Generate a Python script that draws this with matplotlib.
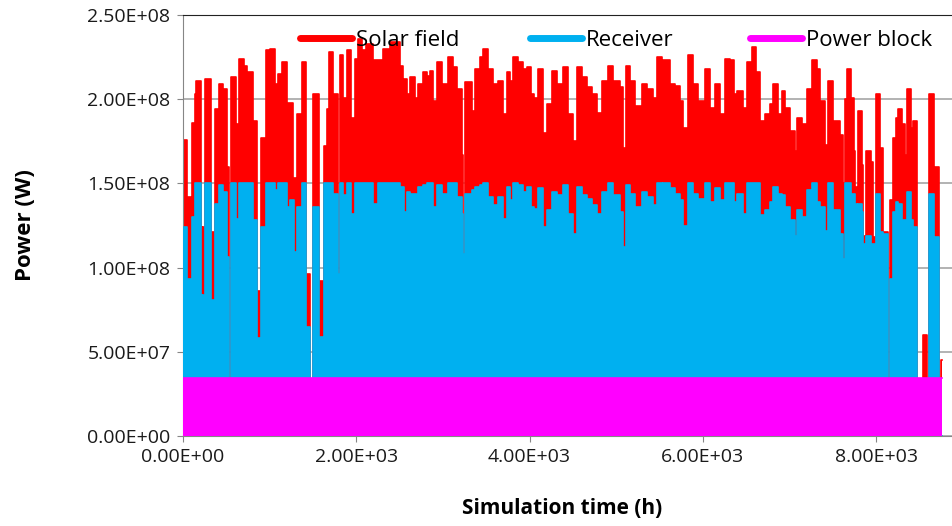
import numpy as np
import matplotlib
matplotlib.use("Agg")
import matplotlib.pyplot as plt
from matplotlib.lines import Line2D
from matplotlib.ticker import FuncFormatter

plt.rcParams["font.family"] = ["Open Sans", "DejaVu Sans"]

# step data: hour where a level starts, power in 1e7 W
hours = [
    0, 50, 88, 100, 135, 150, 204, 219, 231, 258, 327, 369, 416, 466, 512, 535,
    554, 608, 627, 650, 704, 735, 804, 858, 885, 900, 958, 1004, 1062, 1100,
    1139, 1197,
    1235, 1266, 1281, 1304, 1316, 1377, 1419, 1466, 1504, 1566, 1612, 1627,
    1658, 1685, 1735, 1793, 1808, 1850, 1889, 1935, 1985, 2023, 2062, 2112,
    2197, 2254, 2312, 2389,
    2504, 2535, 2550, 2581, 2619, 2677, 2716, 2773, 2812, 2850, 2889, 2927,
    2985, 3000, 3062, 3120, 3158, 3216, 3236, 3250, 3331, 3370, 3427, 3466,
    3523, 3581, 3639, 3697, 3735,
    3774, 3812, 3870, 3927, 3966, 4012, 4050, 4101, 4158, 4197, 4255, 4312,
    4381, 4447, 4504, 4543, 4601, 4658, 4716, 4774, 4832, 4908, 4966,
    5043, 5081, 5112, 5158, 5216, 5293, 5351, 5428, 5474, 5524, 5543, 5620,
    5678, 5735, 5774, 5832, 5889, 5947, 6024, 6082, 6139, 6197, 6255,
    6312, 6359, 6397, 6466, 6505, 6562, 6612, 6659, 6716, 6774, 6813, 6870,
    6909, 6947, 7005, 7063, 7082, 7140, 7197, 7255, 7313, 7351, 7409, 7447,
    7505,
    7582, 7613, 7643, 7660, 7705, 7740, 7755, 7774, 7785, 7832, 7851, 7878,
    7888, 7936, 7966, 7997, 8043, 8074, 8140, 8159, 8197, 8230, 8255, 8293,
    8332, 8351, 8397, 8428, 8474, 8544, 8590, 8613, 8667, 8680, 8728, 8744,
]
solar_field = [
    17.6, 14.2, 0, 18.6, 20.3, 21.1, 12.4, 5.5, 12.4, 21.2, 12.1, 19.4, 20.9,
    20.6, 16.0, 0, 21.3, 0, 18.5, 22.4, 22.0, 21.6, 18.7, 8.6, 0, 17.7, 22.9,
    23.0, 20.9, 21.5, 22.2, 19.8,
    19.8, 15.3, 15.3, 4.8, 19.1, 22.2, 9.6, 0, 20.3, 9.2, 0, 17.2, 19.4, 22.8,
    20.3, 9.6, 22.6, 20.1, 22.9, 18.9, 22.4, 23.6, 22.9, 23.3, 22.3, 22.3,
    23.0, 23.4,
    22.0, 18.5, 21.2, 20.3, 21.3, 20.1, 20.9, 21.6, 21.4, 21.7, 19.9, 22.2,
    10.7, 20.9, 22.5, 21.9, 20.6, 16.7, 10.8, 21.0, 19.3, 21.8, 22.5, 23.0,
    21.8, 20.9, 21.1, 19.1, 21.6,
    21.1, 22.5, 22.2, 21.8, 21.9, 20.3, 20.1, 21.8, 18.0, 19.7, 21.7, 20.9,
    21.9, 19.1, 17.5, 21.9, 21.3, 20.7, 20.3, 19.2, 21.1, 22.0, 21.1,
    20.7, 17.1, 22.0, 21.1, 19.6, 20.9, 20.6, 20.1, 22.5, 20.1, 22.3, 20.9,
    20.8, 19.9, 18.3, 22.6, 20.9, 19.9, 21.8, 19.5, 20.9, 19.1, 22.4,
    22.3, 20.3, 20.5, 19.5, 22.2, 23.1, 21.6, 18.7, 19.1, 19.7, 20.9, 19.1,
    20.5, 19.5, 18.1, 16.9, 18.9, 18.5, 20.6, 22.3, 21.8, 19.9, 17.3, 21.1,
    18.7,
    17.9, 15.0, 20.0, 21.8, 20.1, 16.9, 14.8, 0, 19.3, 16.1, 11.9, 5.0,
    16.9, 16.3, 11.8, 20.3, 17.1, 12.1, 0, 14.0, 17.7, 18.9, 19.4, 18.5,
    16.7, 20.6, 18.3, 18.7, 0, 6.0, 0, 20.3, 0, 16.0, 0, 4.5,
]
receiver = [
    12.4, 9.3, 0, 13.0, 15.0, 15.0, 8.4, 5.5, 8.4, 15.0, 8.1, 13.8, 14.9,
    14.5, 10.6, 0, 15.0, 0, 12.9, 15.0, 15.0, 15.0, 12.8, 5.8, 0, 12.4, 15.0,
    15.0, 14.6, 15.0, 15.0, 13.6,
    14.0, 14.0, 10.9, 4.8, 13.6, 15.0, 6.5, 0, 13.6, 5.9, 0, 15.0, 15.0, 15.0,
    14.4, 9.6, 15.0, 14.3, 15.0, 13.2, 15.0, 15.0, 15.0, 15.0, 13.8, 15.0,
    15.0, 15.0,
    14.8, 14.8, 13.3, 14.5, 14.4, 14.4, 14.8, 14.9, 15.0, 15.0, 13.6, 14.9,
    10.7, 14.4, 15.0, 15.0, 14.2, 13.2, 10.8, 14.4, 14.6, 14.8, 14.9, 15.0,
    14.2, 13.7, 14.2, 12.9, 14.8,
    14.0, 15.0, 14.9, 14.5, 14.8, 13.6, 13.5, 14.7, 12.4, 13.4, 14.5, 14.3,
    14.9, 13.2, 12.0, 14.8, 14.3, 14.1, 13.7, 13.2, 14.5, 15.0, 14.3,
    13.3, 11.2, 14.9, 14.4, 13.6, 14.5, 14.2, 13.7, 15.0, 14.3, 15.0, 14.7,
    14.4, 14.0, 12.5, 15.0, 14.4, 14.1, 15.0, 13.9, 14.7, 14.0, 15.0,
    15.0, 13.9, 14.4, 13.2, 15.0, 15.0, 15.0, 13.1, 13.4, 13.9, 14.8, 14.4,
    14.3, 13.6, 12.8, 11.9, 13.4, 13.0, 14.6, 15.0, 13.9, 13.6, 12.2, 15.0,
    13.4,
    12.0, 10.5, 15.0, 15.0, 14.4, 14.4, 13.8, 0, 13.8, 13.3, 11.4, 5.0,
    11.9, 11.4, 11.4, 14.4, 12.1, 12.0, 0, 9.3, 13.3, 13.9, 13.8, 12.8,
    12.8, 14.5, 12.8, 12.4, 0, 0, 0, 14.4, 0, 11.8, 0, 0,
]
pb_hours = [0, 2000, 4500, 7000]
power_block = [3.47, 3.44, 3.42, 3.45]
end_hour = 8760

series = ["Solar field", "Receiver", "Power block"]
colors = ["#FF0000", "#00B0F0", "#FF00FF"]


def steps(t, v):
    t = np.append(np.array(t, float), end_hour)
    v = np.array(v, float) * 1e7
    return t, np.append(v, v[-1])


fig = plt.figure(figsize=(9.52, 5.26), dpi=100)
ax = fig.add_axes([183 / 952, 90 / 526, 769 / 952, 421 / 526])

for (t, v), c, z in zip([steps(hours, solar_field), steps(hours, receiver),
                         steps(pb_hours, power_block)], colors, [2, 3, 4]):
    ax.fill_between(t, 0, v, step="post", color=c, lw=0, zorder=z)
    ax.plot(t, v, drawstyle="steps-post", color=c, lw=1.2, zorder=z)

ax.set_xlim(0, end_hour * 769 / 759)
ax.set_ylim(0, 2.5e8)
ax.set_xticks([0, 2000, 4000, 6000, 8000])
ax.set_yticks(np.arange(0, 2.51e8, 5e7))
fmt = FuncFormatter(lambda v, p: f"{v:.2E}")
ax.xaxis.set_major_formatter(fmt)
ax.yaxis.set_major_formatter(fmt)
ax.grid(axis="y", color="#A6A6A6", lw=1.2, zorder=0)
ax.set_axisbelow(True)

for s in ["left", "bottom"]:
    ax.spines[s].set_color("#868686")
ax.spines["top"].set_color("#222222")
ax.spines["right"].set_visible(False)
ax.tick_params(direction="out", length=4, color="#868686", labelsize=14,
               labelcolor="#1a1a1a", pad=5)

ax.set_xlabel("Simulation time (h)", fontsize=15, fontweight="bold")
ax.xaxis.set_label_coords((562 - 183) / 769, -0.148)
ax.set_ylabel("Power (W)", fontsize=16, fontweight="bold")
ax.yaxis.set_label_coords(-(183 - 36) / 769, 0.5)

# one legend entry per series, placed like the original
for name, c, x0 in zip(series, colors, [300, 530, 750]):
    h = Line2D([], [], color=c, lw=5, solid_capstyle="round")
    leg = fig.legend([h], [name], loc="center left",
                     bbox_to_anchor=(x0 / 952, 1 - 40 / 526), frameon=False,
                     fontsize=16, handlelength=2.35, handletextpad=0.15,
                     borderaxespad=0, borderpad=0)
    leg.set_zorder(10)

fig.savefig("out.png", dpi=100)
